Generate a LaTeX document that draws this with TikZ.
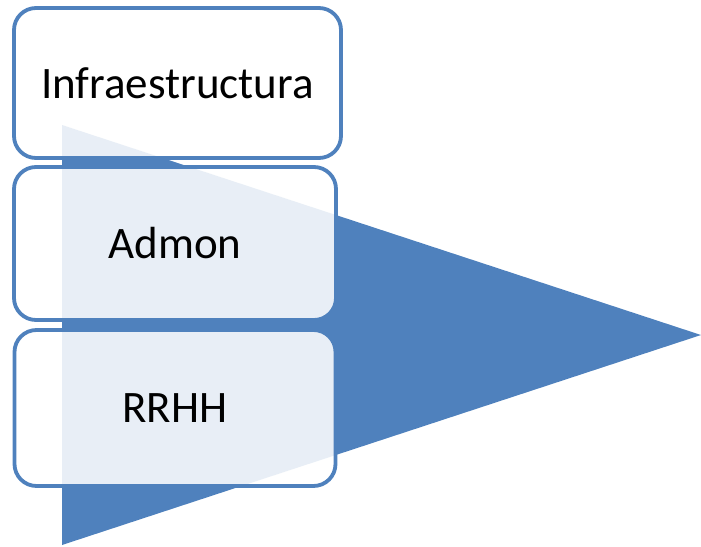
\documentclass[tikz,border=0pt]{standalone}
\usepackage{fontspec}
\setmainfont{Carlito}
\definecolor{accent}{HTML}{4F81BD}
\begin{document}
\begin{tikzpicture}[x=1pt,y=-1pt,
  box/.style={draw=accent, line width=3.8pt, fill=white, fill opacity=0.87, text opacity=1,
    rounded corners=22pt, inner sep=0pt, font=\fontsize{45}{54}\selectfont}]
\useasboundingbox (0,0) rectangle (701,546);
\coordinate (tl) at (62,125);
\coordinate (bl) at (62,545);
\coordinate (tip) at (701,335);
\fill[accent] (tl) -- (tip) -- (bl) -- cycle;
\node[box, minimum width=327pt, minimum height=150pt] (infra) at (177.5,83) {Infraestructura};
\node[box, minimum width=322pt, minimum height=153pt] (admon) at (175,243.5) {Admon};
\node[box, minimum width=321pt, minimum height=156pt] (rrhh) at (175,408) {RRHH};
\end{tikzpicture}
\end{document}
